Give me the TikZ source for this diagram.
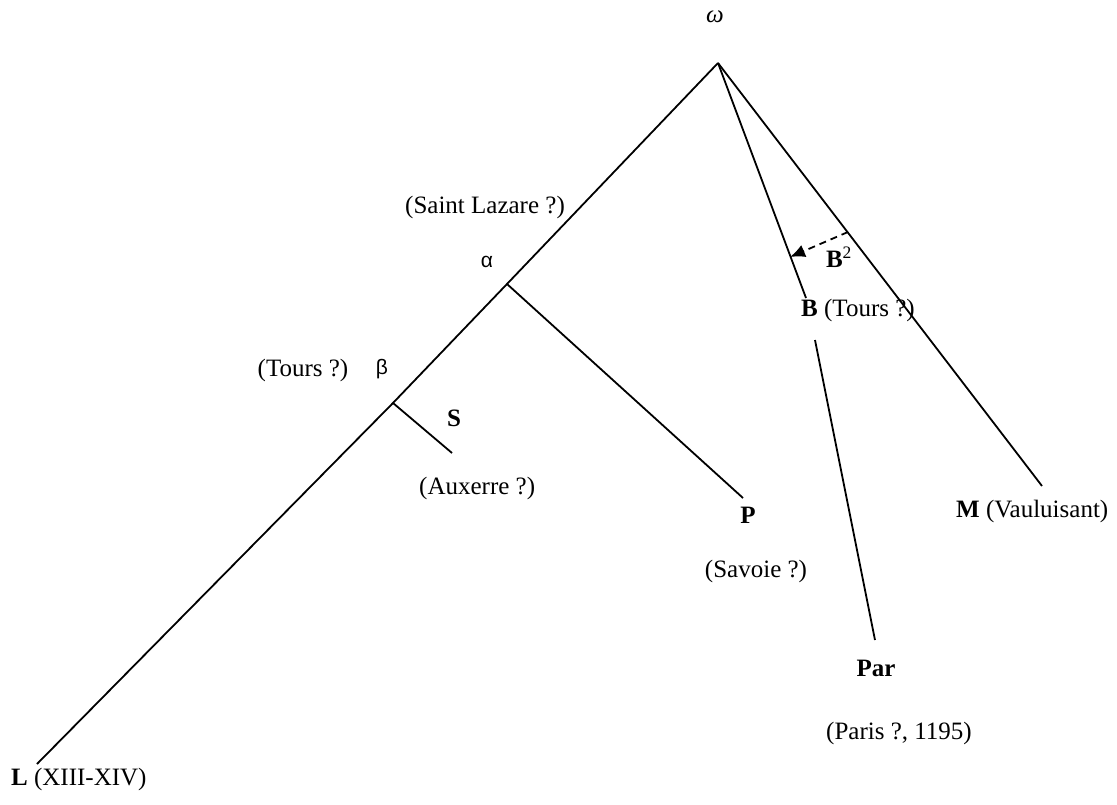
\documentclass[tikz,border=0pt]{standalone}
\usepackage{fontspec}
\setmainfont{Liberation Serif}
\newfontfamily\grk{Liberation Sans}
\usetikzlibrary{arrows.meta}
\begin{document}
\begin{tikzpicture}[x=1pt,y=-1pt,
  branch/.style={line width=1.8pt},
  lbl/.style={inner sep=0pt,font=\fontsize{25}{29}\selectfont},
  glbl/.style={inner sep=0pt,font=\grk\fontsize{21}{25}\selectfont}]
\useasboundingbox (0,0) rectangle (1117,805);
% coordinates
\coordinate (apex) at (718,63);
\coordinate (alpha) at (507,284);
\coordinate (beta) at (393,403);
\coordinate (Lend) at (37,764);
\coordinate (Pend) at (743,498);
\coordinate (Send) at (452,453);
\coordinate (Btop) at (806,298);
\coordinate (Bbot) at (815,340);
\coordinate (Parend) at (875,640);
\coordinate (Mend) at (1042,486);
\coordinate (dashstart) at (848,232);
\coordinate (dashend) at (790,257);
% lines
\draw[branch] (apex) -- (alpha) -- (beta) -- (Lend);
\draw[branch] (alpha) -- (Pend);
\draw[branch] (beta) -- (Send);
\draw[branch] (apex) -- (Btop);
\draw[branch] (Bbot) -- (Parend);
\draw[branch] (apex) -- (Mend);
\draw[line width=1.8pt,dash pattern=on 7pt off 5pt,-{Latex[length=15pt,width=13pt]}] (dashstart) -- (dashend);
% labels
\node[lbl] (omega) at (715,17) {\itshape ω};
\node[lbl] (saint) at (485,207) {(Saint Lazare ?)};
\node[glbl] (alab) at (487,262) {α};
\node[lbl] (tours1) at (303,370) {(Tours ?)};
\node[glbl] (blab) at (382,369) {β};
\node[lbl] (S) at (454,418) {\textbf{S}};
\node[lbl,anchor=west] (aux) at (419,488) {(Auxerre ?)};
\node[lbl] (P) at (748,515) {\textbf{P}};
\node[lbl] (sav) at (756,571) {(Savoie ?)};
\node[lbl] (B2) at (839,257) {\textbf{B}\textsuperscript{2}};
\node[lbl,anchor=west] (B) at (801,310) {\textbf{B} (Tours ?)};
\node[lbl,anchor=west] (M) at (956,511) {\textbf{M} (Vauluisant)};
\node[lbl] (Par) at (876,668) {\textbf{Par}};
\node[lbl] (paris) at (899,733) {(Paris ?, 1195)};
\node[lbl,anchor=west] (L) at (11,779) {\textbf{L} (XIII-XIV)};
\end{tikzpicture}
\end{document}
